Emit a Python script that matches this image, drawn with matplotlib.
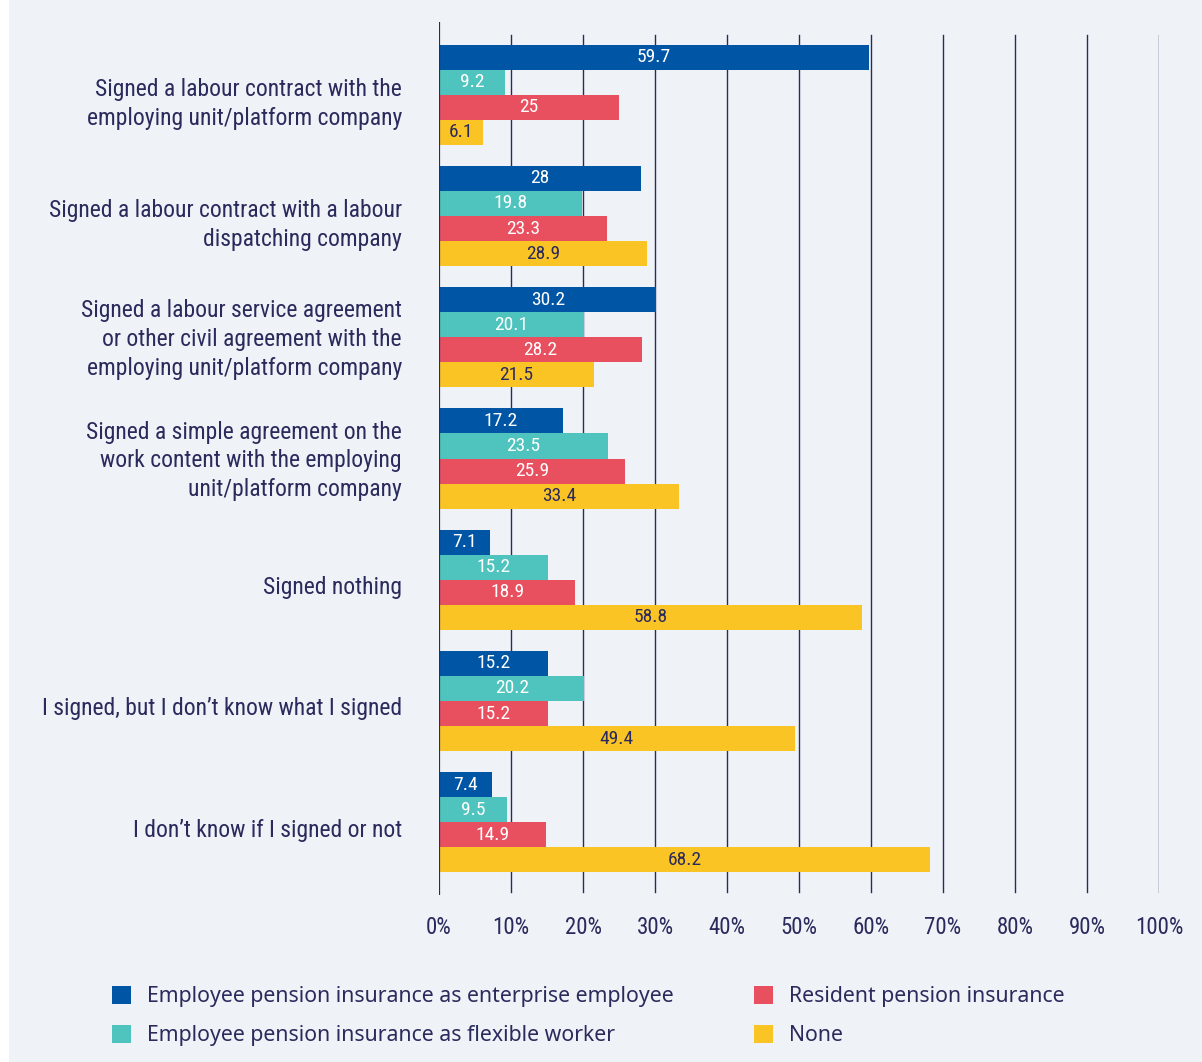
import matplotlib
matplotlib.use("Agg")
import matplotlib.pyplot as plt
from matplotlib import font_manager
from matplotlib.patches import Rectangle
import matplotlib.transforms as mtransforms
import numpy as np

categories = [
    "Signed a labour contract with the\nemploying unit/platform company",
    "Signed a labour contract with a labour\ndispatching company",
    "Signed a labour service agreement\nor other civil agreement with the\nemploying unit/platform company",
    "Signed a simple agreement on the\nwork content with the employing\nunit/platform company",
    "Signed nothing",
    "I signed, but I don\u2019t know what I signed",
    "I don\u2019t know if I signed or not",
]
series_names = [
    "Employee pension insurance as enterprise employee",
    "Employee pension insurance as flexible worker",
    "Resident pension insurance",
    "None",
]
enterprise = [59.7, 28, 30.2, 17.2, 7.1, 15.2, 7.4]
flexible = [9.2, 19.8, 20.1, 23.5, 15.2, 20.2, 9.5]
resident = [25, 23.3, 28.2, 25.9, 18.9, 15.2, 14.9]
none = [6.1, 28.9, 21.5, 33.4, 58.8, 49.4, 68.2]
tick_labels = ["0%", "10%", "20%", "30%", "40%", "50%", "60%", "70%", "80%", "90%", "100%"]

colors = ["#0055a4", "#4fc3bd", "#e84f5f", "#fbc425"]
text_colors = ["white", "white", "white", "#2b2a5c"]
navy = "#2b2a5c"
bg = "#eff3f7"

available = {f.name for f in font_manager.fontManager.ttflist}
narrow = next((n for n in ["Roboto Condensed", "Liberation Sans Narrow", "Open Sans Condensed",
                           "Noto Sans Condensed", "DejaVu Sans Condensed"] if n in available), None)
cond_family = [narrow] if narrow else ["Noto Sans"]
cond_stretch = "normal" if narrow else "condensed"
body_family = ["Noto Sans", "DejaVu Sans"]

W, H = 1202, 1062
fig = plt.figure(figsize=(W / 100, H / 100), dpi=100)
fig.patch.set_facecolor("white")
fig.add_artist(Rectangle((9 / W, 0), 1 - 9 / W, 1,
                         transform=fig.transFigure, facecolor=bg, edgecolor="none", zorder=-10))

ax = fig.add_axes([439 / W, 1 - 895 / H, 720 / W, 873 / H])
ax.set_facecolor("none")

series = [enterprise, flexible, resident, none]
n = len(categories)
y = np.arange(n)
bh = 0.207
offsets = [-1.5 * bh, -0.5 * bh, 0.5 * bh, 1.5 * bh]

for s, vals in enumerate(series):
    ypos = y + offsets[s]
    ax.barh(ypos, vals, height=bh, color=colors[s], edgecolor="none", zorder=3,
            label=series_names[s])
    for yy, v in zip(ypos, vals):
        ax.text(v / 2, yy, f"{v:g}", ha="center", va="center", color=text_colors[s],
                fontsize=14, family=cond_family, stretch=cond_stretch, zorder=4)

ax.set_xlim(0, 100)
ax.set_ylim(n - 0.4, -0.6)

for sp in ax.spines.values():
    sp.set_visible(False)
ax.axvline(0, color=navy, lw=1.6, zorder=5, ymin=0, ymax=1)
for xv in range(10, 101, 10):
    ax.axvline(xv, ymin=3 / 873, ymax=860 / 873, color=navy, lw=1.0, zorder=1)

ax.set_xticks(range(0, 101, 10))
ax.set_xticklabels(tick_labels, family=cond_family, stretch=cond_stretch, fontsize=16.5, color=navy)
ax.tick_params(axis="x", length=0, pad=15)
ax.set_yticks([])

# Category labels: right-aligned left of the axis, nudged down depending on line count
line_shift = {1: 8, 2: 9, 3: 2.5}
for yy, lab in zip(y, categories):
    nl = lab.count("\n") + 1
    tr = ax.get_yaxis_transform() + mtransforms.ScaledTranslation(
        -37 / 100, -line_shift[nl] / 100, fig.dpi_scale_trans)
    ax.text(0, yy, lab, transform=tr, ha="right", va="center", multialignment="right",
            family=cond_family, stretch=cond_stretch, fontsize=17, color=navy, linespacing=1.33)

handles = [Rectangle((0, 0), 1, 1, facecolor=c, edgecolor="none") for c in colors]
fig.legend(handles, series_names,
           loc="upper left", bbox_to_anchor=(112 / W, 1 - 986 / H), ncol=2,
           frameon=False, prop={"family": body_family, "size": 15.3},
           labelcolor=navy, handlelength=0.9, handleheight=0.9, handletextpad=0.75,
           columnspacing=3.76, labelspacing=0.85, borderpad=0, borderaxespad=0)

fig.savefig("out.png", dpi=100, facecolor=fig.get_facecolor())
